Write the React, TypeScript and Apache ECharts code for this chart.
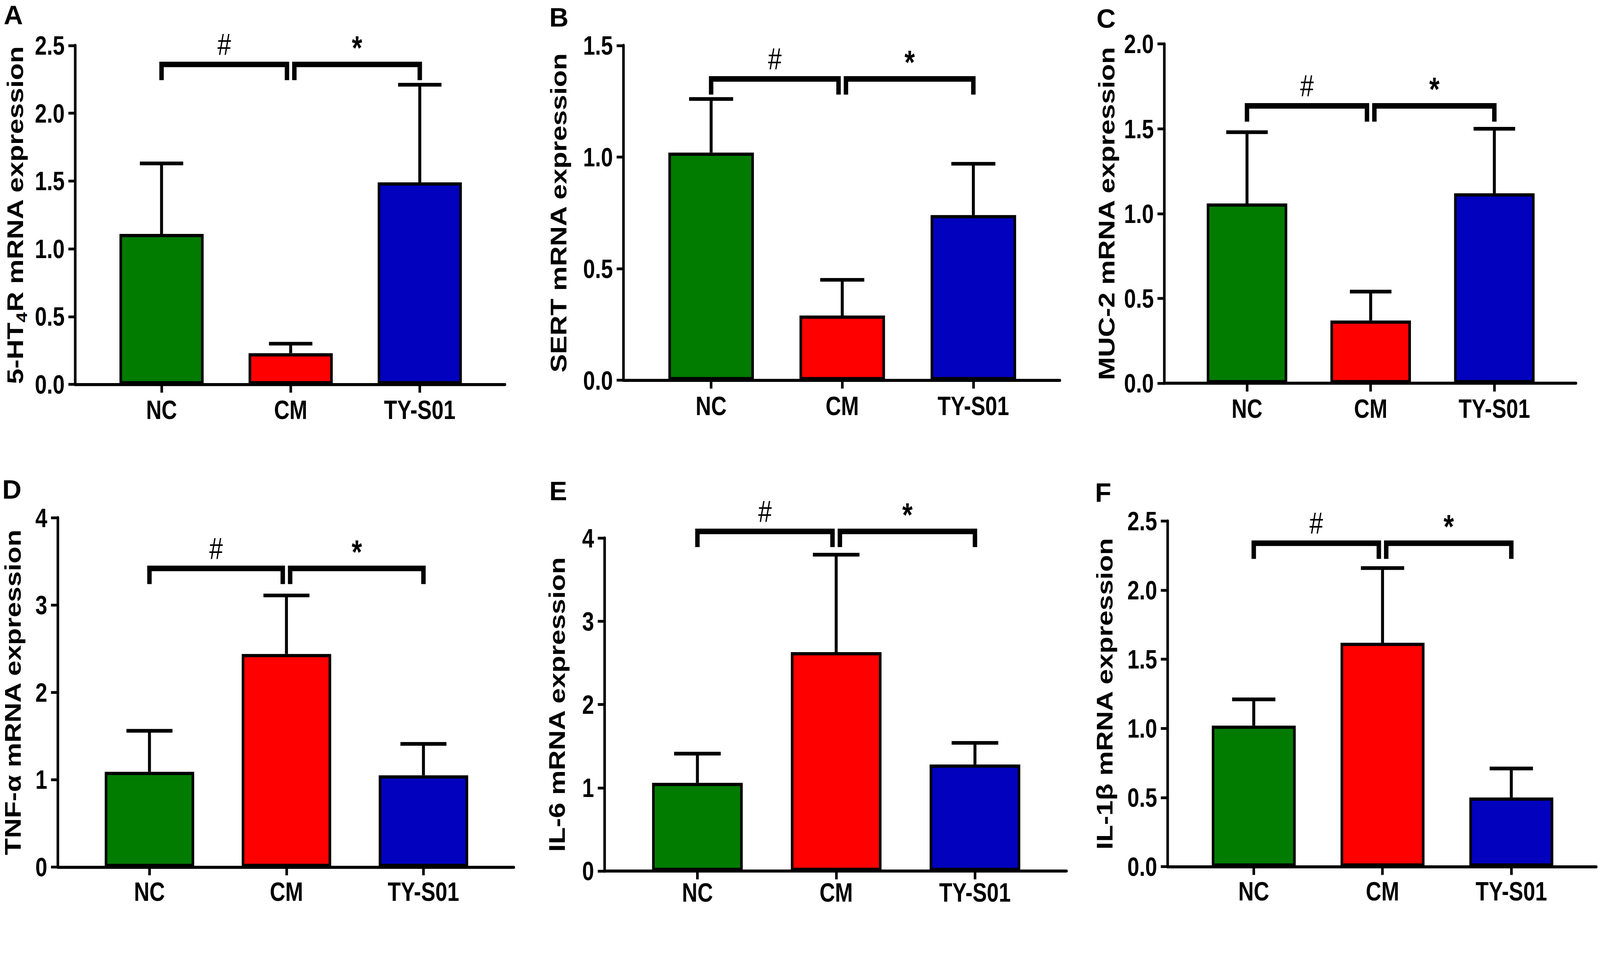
import React, { useEffect, useRef, useState } from "react";
import * as echarts from "echarts";

// ---------------- DATA ----------------
const categories = ["NC", "CM", "TY-S01"];
const barColors = ["#017C01", "#FE0000", "#0101BE"];

const ht4rMean = [1.11, 0.23, 1.49];
const ht4rSD = [0.52, 0.07, 0.72];
const sertMean = [1.02, 0.29, 0.74];
const sertSD = [0.24, 0.16, 0.23];
const muc2Mean = [1.06, 0.37, 1.12];
const muc2SD = [0.42, 0.17, 0.38];
const tnfMean = [1.09, 2.44, 1.05];
const tnfSD = [0.47, 0.67, 0.36];
const il6Mean = [1.06, 2.63, 1.28];
const il6SD = [0.35, 1.17, 0.26];
const il1bMean = [1.02, 1.62, 0.5];
const il1bSD = [0.19, 0.54, 0.21];

const panelMeans = [ht4rMean, sertMean, muc2Mean, tnfMean, il6Mean, il1bMean];
const panelSDs = [ht4rSD, sertSD, muc2SD, tnfSD, il6SD, il1bSD];
const panelLetters = ["A", "B", "C", "D", "E", "F"];
const yTitles = [
  "{n|5-HT}{s|4}{n|R mRNA expression}",
  "SERT mRNA expression",
  "MUC-2 mRNA expression",
  "TNF-α mRNA expression",
  "IL-6 mRNA expression",
  "IL-1β mRNA expression",
];
const yMax = [2.5, 1.5, 2.0, 4, 4, 2.5];
const yStep = [0.5, 0.5, 0.5, 1, 1, 0.5];
const yDecimals = [1, 1, 1, 0, 0, 1];
const bracketLevels = [2.36, 1.35, 1.635, 3.42, 4.08, 2.34];
const comparisons: [number, number, string][] = [
  [0, 1, "#"],
  [1, 2, "*"],
];

// ---------------- LAYOUT / STYLE ----------------
const W = 4328;
const H = 2461;
const K = 1.25; // vertical stretch of the original figure
const HP = H / K;
const XMIN = -0.67;
const XMAX = 2.66;
const FONT = "'Liberation Sans', Arial, Helvetica, sans-serif";

const layout = [
  { left: 203, right: 1366, top: 123, bottom: 1040, nameGap: 135, xlm: 30, lx: 10, ly: 4 },
  { left: 1686, right: 2867, top: 123, bottom: 1029, nameGap: 146, xlm: 30, lx: 1486, ly: 10 },
  { left: 3149, right: 4263, top: 119, bottom: 1037, nameGap: 127, xlm: 30, lx: 2966, ly: 14 },
  { left: 156, right: 1390, top: 1401, bottom: 2346, nameGap: 93, xlm: 28, lx: 6, ly: 1288 },
  { left: 1635, right: 2885, top: 1456, bottom: 2357, nameGap: 100, xlm: 21, lx: 1486, ly: 1292 },
  { left: 3158, right: 4318, top: 1410, bottom: 2345, nameGap: 141, xlm: 28, lx: 2962, ly: 1296 },
];

function buildOption() {
  const grid: any[] = [];
  const xAxis: any[] = [];
  const yAxis: any[] = [];
  const series: any[] = [];
  const graphic: any[] = [];

  layout.forEach((L, i) => {
    const spacing = (L.right - L.left) / (XMAX - XMIN);
    const barW = 0.672 * spacing - 7;
    const capHalf = 0.168 * spacing;

    grid.push({
      left: L.left,
      top: L.top / K,
      width: L.right - L.left,
      height: (L.bottom - L.top) / K,
      containLabel: false,
      outerBoundsMode: "none",
    });

    xAxis.push({
      gridIndex: i,
      type: "value",
      min: XMIN,
      max: XMAX,
      axisLine: { show: true, onZero: false, lineStyle: { color: "#000", width: 6.5 } },
      axisTick: {
        show: true,
        customValues: [0, 1, 2],
        length: 18,
        lineStyle: { color: "#000", width: 7 },
      },
      axisLabel: {
        show: true,
        customValues: [0, 1, 2],
        formatter: (v: number) => categories[Math.round(v)] ?? "",
        margin: L.xlm,
        lineHeight: 50,
        fontSize: 58,
        fontWeight: "bold",
        fontFamily: FONT,
        color: "#000",
      },
      splitLine: { show: false },
    });

    const dec = yDecimals[i];
    const richSub = {
      n: { fontSize: 60, fontWeight: "bold", fontFamily: FONT, color: "#000", lineHeight: 56, verticalAlign: "top" },
      s: {
        fontSize: 40,
        fontWeight: "bold",
        fontFamily: FONT,
        color: "#000",
        lineHeight: 40,
        verticalAlign: "top",
        padding: [27, 0, 0, 0],
      },
    };
    yAxis.push({
      gridIndex: i,
      type: "value",
      min: 0,
      max: yMax[i],
      interval: yStep[i],
      axisLine: { show: true, onZero: false, lineStyle: { color: "#000", width: 7 } },
      axisTick: { show: true, length: 18, lineStyle: { color: "#000", width: 6 } },
      axisLabel: {
        margin: 28,
        fontSize: 58,
        fontWeight: "bold",
        fontFamily: FONT,
        color: "#000",
        formatter: (v: number) => v.toFixed(dec),
      },
      splitLine: { show: false },
      name: yTitles[i],
      nameLocation: "middle",
      nameGap: L.nameGap,
      nameMoveOverlap: false,
      nameTextStyle: {
        fontSize: 60,
        lineHeight: 56,
        fontWeight: "bold",
        fontFamily: FONT,
        color: "#000",
        rich: i === 0 ? richSub : undefined,
      },
    });

    const means = panelMeans[i];
    const sds = panelSDs[i];

    series.push({
      type: "bar",
      xAxisIndex: i,
      yAxisIndex: i,
      barWidth: barW,
      z: 3,
      silent: true,
      itemStyle: { borderColor: "#000", borderWidth: 7 },
      data: means.map((v, j) => ({ value: [j, v], itemStyle: { color: barColors[j] } })),
    });

    series.push({
      type: "custom",
      xAxisIndex: i,
      yAxisIndex: i,
      z: 2,
      silent: true,
      encode: { x: 0, y: [1, 2] },
      data: means.map((m, j) => [j, m, m + sds[j]]),
      renderItem: (params: any, api: any) => {
        const x = api.value(0);
        const p0 = api.coord([x, api.value(1)]);
        const p1 = api.coord([x, api.value(2)]);
        return {
          type: "group",
          children: [
            {
              type: "line",
              shape: { x1: p0[0], y1: p0[1], x2: p1[0], y2: p1[1] },
              style: { stroke: "#000", lineWidth: 8 },
            },
            {
              type: "line",
              shape: { x1: p1[0] - capHalf, y1: p1[1], x2: p1[0] + capHalf, y2: p1[1] },
              style: { stroke: "#000", lineWidth: 8 },
            },
          ],
        };
      },
    });

    const level = bracketLevels[i];
    series.push({
      type: "custom",
      xAxisIndex: i,
      yAxisIndex: i,
      z: 4,
      clip: false,
      silent: true,
      encode: { x: [0, 1], y: 2 },
      data: comparisons.map(([a, b]) => [a, b, level]),
      renderItem: (params: any, api: any) => {
        const a = api.value(0);
        const b = api.value(1);
        const pa = api.coord([a, api.value(2)]);
        const pb = api.coord([b, api.value(2)]);
        const gap = 10;
        const x1 = pa[0] + (a === 1 ? gap : 0);
        const x2 = pb[0] - (b === 1 ? gap : 0);
        const y = pa[1];
        const drop = 34;
        const sym = comparisons[params.dataIndex][2];
        return {
          type: "group",
          children: [
            {
              type: "polyline",
              shape: { points: [[x1, y + drop], [x1, y], [x2, y], [x2, y + drop]] },
              style: { stroke: "#000", lineWidth: 12, fill: null, lineJoin: "miter" },
            },
            {
              type: "text",
              x: (x1 + x2) / 2,
              y: sym === "#" ? y - 10 : y,
              style: {
                text: sym,
                fontSize: sym === "#" ? 66 : 72,
                fontWeight: sym === "#" ? "normal" : "bold",
                fontFamily: FONT,
                fill: "#000",
                align: "center",
                verticalAlign: "bottom",
              },
            },
          ],
        };
      },
    });

    graphic.push({
      type: "text",
      x: L.lx,
      y: L.ly / K,
      scaleY: 1 / K,
      style: {
        text: panelLetters[i],
        fontSize: 72,
        fontWeight: "bold",
        fontFamily: FONT,
        fill: "#000",
        align: "left",
        verticalAlign: "top",
      },
    });
  });

  return {
    animation: false,
    backgroundColor: "#fff",
    grid,
    xAxis,
    yAxis,
    series,
    graphic,
  };
}

// the page's CSS viewport may be narrower than the photographed picture:
// fit the drawing to the viewport width, uniformly in both directions
function viewportScale() {
  if (typeof window === "undefined") return 1;
  const iw = window.innerWidth || W;
  return iw / W;
}

export default function App() {
  const ref = useRef<HTMLDivElement>(null);
  const [scale, setScale] = useState(viewportScale());
  useEffect(() => {
    const onResize = () => setScale(viewportScale());
    window.addEventListener("resize", onResize);
    return () => window.removeEventListener("resize", onResize);
  }, []);
  useEffect(() => {
    if (!ref.current) return;
    const chart = echarts.init(ref.current, null, { renderer: "svg", width: W, height: HP });
    chart.setOption(buildOption() as any);
    return () => chart.dispose();
  }, []);
  return (
    <div
      ref={ref}
      style={{
        position: "absolute",
        left: 0,
        top: 0,
        width: W,
        height: HP,
        transform: `scale(${scale}, ${scale * K})`,
        transformOrigin: "0 0",
        background: "#fff",
      }}
    />
  );
}
